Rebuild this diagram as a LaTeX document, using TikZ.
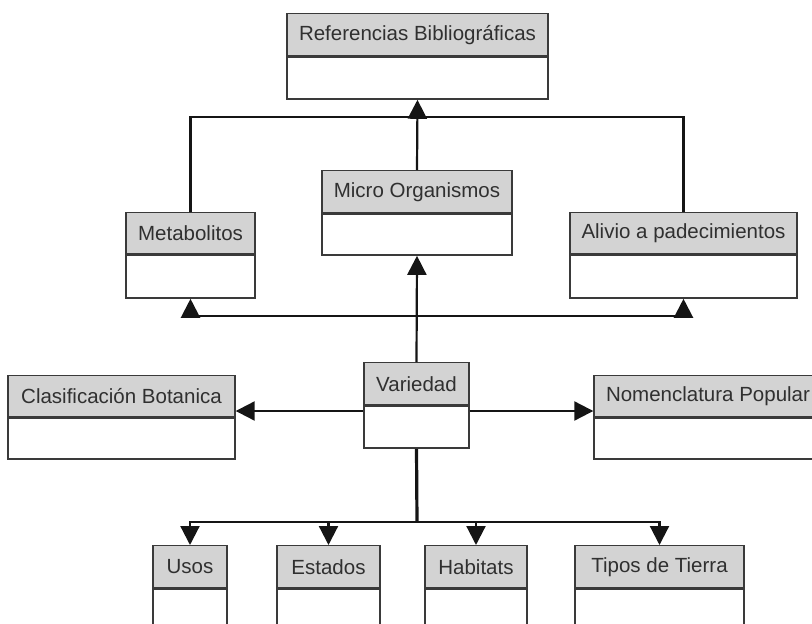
\documentclass[tikz,border=0pt]{standalone}
\usepackage{fontspec}
\setmainfont{Liberation Sans}
\usetikzlibrary{arrows.meta,calc}

\definecolor{hdrfill}{HTML}{D3D3D3}
\definecolor{boxline}{HTML}{3A3A3A}
\definecolor{txt}{HTML}{303030}
\definecolor{wire}{HTML}{151515}

\tikzset{
  hdr/.style={draw=boxline, line width=1.4pt, fill=hdrfill, inner sep=0pt,
    anchor=north, text=txt, font=\fontsize{20.5}{21}\selectfont},
  bdy/.style={draw=boxline, line width=1.4pt, fill=white, inner sep=0pt, anchor=north},
  link/.style={draw=wire, line width=2.2pt},
  tip/.style={link, -{Triangle[width=19pt,length=19pt]}}
}

% class box: name, centre x, top y, width, header height, body height, title
\newcommand\classbox[7]{%
  \node[hdr, minimum width=#4pt, minimum height=#5pt] (#1) at (#2,#3) {#7};
  \node[bdy, minimum width=#4pt, minimum height=#6pt] (#1b) at (#1.south) {};
}

\begin{document}
\begin{tikzpicture}[x=1pt,y=-1pt]
\useasboundingbox (0,0) rectangle (812,624);
\clip (0,0) rectangle (812,624);

% top level
\classbox{ref}{417.5}{13}{261}{42}{42}{Referencias Bibliográficas}

% second level
\classbox{meta}{190.5}{212}{129}{41}{43}{Metabolitos}
\classbox{micro}{417}{170}{190}{42}{41}{Micro Organismos}
\classbox{alivio}{683.5}{212}{227}{41}{43}{Alivio a padecimientos}

% centre row
\classbox{var}{416.5}{362}{105}{42}{42}{Variedad}
\classbox{clas}{121.5}{375}{227}{41}{41}{Clasificación Botanica}
\classbox{nom}{708}{375}{228}{41}{41}{Nomenclatura Popular}

% bottom row
\classbox{usos}{190}{545}{74}{42}{42}{Usos}
\classbox{est}{328.5}{545}{103}{42}{42}{Estados}
\classbox{hab}{476}{545}{102}{42}{42}{Habitats}
\classbox{tip}{659.5}{545}{169}{42}{42}{Tipos de Tierra}

% junction points
\coordinate (tj) at (417,117);
\coordinate (mj) at (417,316);
\coordinate (hy) at (0,411);
\coordinate (bj) at (417,522);

% links to the top box
\draw[link] (meta.north) |- (tj) -| (alivio.north);
\draw[tip] (micro.north) -- (refb.south);

% links from the centre box upwards
\draw[tip] (mj) -| (metab.south);
\draw[tip] (mj) -| (aliviob.south);
\draw[tip] (var.north) -- (microb.south);

% sideways links
\draw[tip] (hy -| varb.west) -- (hy -| clasb.east);
\draw[tip] (hy -| varb.east) -- (hy -| nomb.west);

% links downwards
\draw[link, line width=3.2pt] (varb.south) -- (bj);
\draw[tip] (bj) -| (usos.north);
\draw[tip] (bj) -| (est.north);
\draw[tip] (bj) -| (hab.north);
\draw[tip] (bj) -| (tip.north);
\end{tikzpicture}
\end{document}
